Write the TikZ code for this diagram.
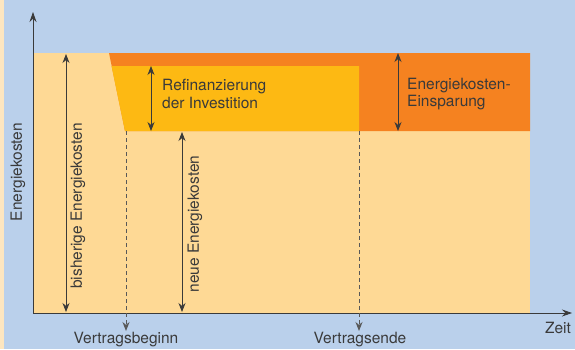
\documentclass[tikz,border=0pt]{standalone}
\usepackage{fontspec}
\setmainfont{TeX Gyre Heros}
\usetikzlibrary{arrows.meta}
\definecolor{bgblue}{HTML}{BAD0EB}
\definecolor{lightbeige}{HTML}{FED995}
\definecolor{darkorange}{HTML}{F58220}
\definecolor{gold}{HTML}{FDB913}
\definecolor{strip}{HTML}{FDE6C0}
\definecolor{txt}{HTML}{3A3A3A}
\tikzset{
  lbl/.style={font=\fontsize{15.5}{17.6}\selectfont, text=txt, inner sep=0pt},
  dimarrow/.style={draw=txt, line width=0.8pt, {Stealth[length=9pt,width=7pt]}-{Stealth[length=9pt,width=7pt]}},
  axisarrow/.style={draw=txt, line width=0.8pt, -{Stealth[length=10pt,width=7pt]}},
  dashmark/.style={draw=txt!85, line width=1pt, dash pattern=on 4pt off 3pt, -{Stealth[length=9pt,width=7pt]}}
}
\begin{document}
\begin{tikzpicture}[x=1pt,y=-1pt]
\useasboundingbox (0,0) rectangle (575,349);
\fill[bgblue] (0,0) rectangle (575,349);
\fill[strip] (0,0) rectangle (4,349);
% regions
\fill[lightbeige] (33,53) rectangle (530,313);
\fill[darkorange] (109,53) -- (530,53) -- (530,131) -- (125,131) -- cycle;
\fill[gold] (111.5,66) -- (359,66) -- (359,131) -- (125,131) -- cycle;
% coordinates
\coordinate (o) at (33,313);
\coordinate (ytop) at (33,12);
\coordinate (xend) at (572,313);
\coordinate (b1) at (66,54);
\coordinate (b2) at (66,312);
\coordinate (n1) at (182,132);
\coordinate (n2) at (182,312);
\coordinate (r1) at (151,66);
\coordinate (r2) at (151,131);
\coordinate (e1) at (398,53);
\coordinate (e2) at (398,131);
\coordinate (v1) at (126,131);
\coordinate (v2) at (126,331);
\coordinate (w1) at (359,131);
\coordinate (w2) at (359,331);
% axes
\draw[axisarrow] (o) -- (ytop);
\draw[axisarrow] (o) -- (xend);
% dashed markers
\draw[dashmark] (v1) -- (v2);
\draw[dashmark] (w1) -- (w2);
% dimension arrows
\draw[dimarrow] (b1) -- (b2);
\draw[dimarrow] (n1) -- (n2);
\draw[dimarrow] (r1) -- (r2);
\draw[dimarrow] (e1) -- (e2);
% labels
\node[lbl, rotate=90] (ylab) at (18,172) {Energiekosten};
\node[lbl, rotate=90] (blab) at (78,206) {bisherige Energiekosten};
\node[lbl, rotate=90] (nlab) at (195,224) {neue Energiekosten};
\node[lbl, align=left, anchor=west] (rlab) at (162,94) {Refinanzierung\\der Investition};
\node[lbl, align=left, anchor=west] (elab) at (407,94) {Energiekosten-\\Einsparung};
\node[lbl] (vb) at (126,340) {Vertragsbeginn};
\node[lbl] (ve) at (360,340) {Vertragsende};
\node[lbl] (zeit) at (558,328) {Zeit};
\end{tikzpicture}
\end{document}
